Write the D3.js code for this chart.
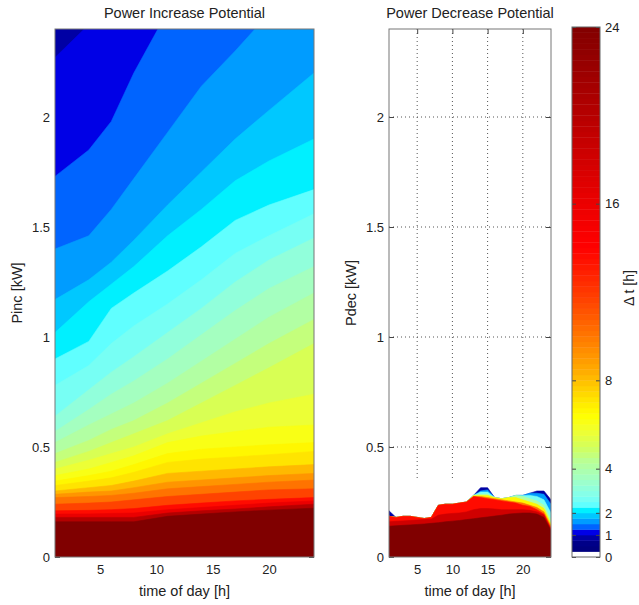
<!DOCTYPE html>
<html>
<head>
<meta charset="utf-8">
<script src="https://cdn.jsdelivr.net/npm/d3@7"></script>
<style>
  body { margin: 0; background: #fff; }
  svg { display: block; }
  text { font-family: "Liberation Sans", Arial, Helvetica, sans-serif; fill: #222; }
</style>
</head>
<body>
<svg id="fig" width="639" height="605"></svg>
<script>
// ---------- data ----------
// Power increase potential: hours at which the iso-duration boundaries are tabulated
const incHours = [1, 4, 6, 8, 11, 14, 17, 20, 24];
// sustainable duration Δt [h] of each band (region below its boundary has Δt >= level)
const incLevels = [0.75, 1, 1.25, 1.5, 1.75, 2, 2.25, 2.5, 3, 3.5, 4, 4.5, 5, 5.5, 6, 6.5, 7, 8, 9, 10, 11.5, 13.5, 16, 20, 24];
// upper Pinc bound [kW] of each band at incHours
const incBounds = [
  [2.40, 2.40, 2.40, 2.40, 2.40, 2.40, 2.40, 2.40, 2.40],
  [2.27, 2.42, 2.50, 2.60, 2.70, 2.80, 2.90, 3.00, 3.20],
  [1.73, 1.85, 1.98, 2.20, 2.48, 2.60, 2.70, 2.80, 3.00],
  [1.40, 1.46, 1.58, 1.72, 1.93, 2.14, 2.30, 2.47, 2.65],
  [1.17, 1.26, 1.34, 1.44, 1.60, 1.75, 1.90, 2.03, 2.20],
  [1.02, 1.16, 1.24, 1.32, 1.46, 1.58, 1.71, 1.80, 1.90],
  [0.90, 0.98, 1.13, 1.20, 1.30, 1.41, 1.53, 1.60, 1.67],
  [0.78, 0.87, 0.97, 1.05, 1.15, 1.26, 1.38, 1.46, 1.56],
  [0.64, 0.76, 0.84, 0.91, 1.02, 1.13, 1.25, 1.35, 1.45],
  [0.57, 0.67, 0.74, 0.80, 0.90, 1.01, 1.12, 1.22, 1.32],
  [0.52, 0.60, 0.65, 0.70, 0.79, 0.89, 0.99, 1.09, 1.20],
  [0.47, 0.53, 0.58, 0.62, 0.70, 0.79, 0.88, 0.97, 1.08],
  [0.43, 0.48, 0.52, 0.56, 0.62, 0.70, 0.78, 0.86, 0.97],
  [0.40, 0.44, 0.47, 0.50, 0.56, 0.61, 0.66, 0.70, 0.74],
  [0.37, 0.40, 0.43, 0.46, 0.52, 0.55, 0.57, 0.59, 0.60],
  [0.345, 0.37, 0.39, 0.42, 0.47, 0.49, 0.50, 0.51, 0.52],
  [0.325, 0.345, 0.36, 0.385, 0.43, 0.445, 0.455, 0.465, 0.48],
  [0.30, 0.315, 0.325, 0.345, 0.38, 0.39, 0.40, 0.41, 0.42],
  [0.285, 0.295, 0.30, 0.315, 0.34, 0.35, 0.36, 0.37, 0.38],
  [0.27, 0.275, 0.28, 0.29, 0.31, 0.32, 0.33, 0.34, 0.35],
  [0.24, 0.245, 0.25, 0.26, 0.275, 0.285, 0.295, 0.305, 0.31],
  [0.21, 0.212, 0.215, 0.22, 0.235, 0.245, 0.255, 0.262, 0.27],
  [0.195, 0.196, 0.198, 0.20, 0.215, 0.225, 0.235, 0.245, 0.255],
  [0.18, 0.18, 0.18, 0.18, 0.20, 0.21, 0.218, 0.228, 0.24],
  [0.16, 0.16, 0.16, 0.16, 0.185, 0.195, 0.205, 0.213, 0.222]
];

// Power decrease potential: hourly boundaries
const decHours = d3.range(1, 25);
// extent of the computed Pdec grid [kW]; cells with Δt = 0 show as white
const decPowerRange = [0, 0.35];
const decLevels = [0.75, 1.5, 2.5, 4, 6.5, 10, 13.5, 18, 24];
const decBounds = [
  [0.21, 0.18, 0.185, 0.185, 0.18, 0.175, 0.18, 0.235, 0.24, 0.24, 0.245, 0.25, 0.28, 0.315, 0.315, 0.27, 0.265, 0.27, 0.28, 0.28, 0.29, 0.30, 0.30, 0.26],
  [0.185, 0.18, 0.185, 0.185, 0.18, 0.175, 0.18, 0.235, 0.24, 0.24, 0.245, 0.25, 0.28, 0.30, 0.305, 0.27, 0.265, 0.27, 0.28, 0.28, 0.29, 0.29, 0.285, 0.24],
  [0.185, 0.18, 0.185, 0.185, 0.18, 0.175, 0.18, 0.235, 0.24, 0.24, 0.245, 0.25, 0.28, 0.295, 0.295, 0.27, 0.265, 0.27, 0.28, 0.28, 0.28, 0.275, 0.26, 0.20],
  [0.185, 0.18, 0.185, 0.185, 0.18, 0.175, 0.18, 0.235, 0.24, 0.24, 0.245, 0.25, 0.28, 0.285, 0.285, 0.27, 0.265, 0.27, 0.28, 0.275, 0.265, 0.255, 0.235, 0.17],
  [0.185, 0.18, 0.185, 0.185, 0.18, 0.175, 0.18, 0.235, 0.24, 0.24, 0.245, 0.25, 0.28, 0.28, 0.28, 0.27, 0.265, 0.27, 0.27, 0.26, 0.25, 0.24, 0.22, 0.15],
  [0.185, 0.18, 0.185, 0.185, 0.18, 0.175, 0.18, 0.235, 0.24, 0.24, 0.245, 0.25, 0.275, 0.275, 0.27, 0.265, 0.26, 0.255, 0.25, 0.245, 0.235, 0.225, 0.205, 0.14],
  [0.185, 0.18, 0.185, 0.185, 0.18, 0.175, 0.18, 0.235, 0.24, 0.24, 0.245, 0.25, 0.275, 0.27, 0.265, 0.26, 0.255, 0.25, 0.245, 0.235, 0.23, 0.215, 0.195, 0.13],
  [0.16, 0.162, 0.164, 0.166, 0.168, 0.17, 0.172, 0.19, 0.195, 0.198, 0.2, 0.205, 0.215, 0.22, 0.22, 0.218, 0.215, 0.215, 0.215, 0.215, 0.212, 0.205, 0.19, 0.125],
  [0.14, 0.142, 0.144, 0.146, 0.148, 0.15, 0.153, 0.156, 0.16, 0.163, 0.166, 0.17, 0.174, 0.178, 0.182, 0.186, 0.19, 0.195, 0.198, 0.2, 0.2, 0.195, 0.18, 0.12]
];

const xTicks = [5, 10, 15, 20];
const yTicks = [0, 0.5, 1, 1.5, 2];
const cbarTicks = [0, 1, 2, 4, 8, 16, 24];

// ---------- colour map (Δt in hours -> colour) ----------
const cmap = d3.scaleLinear()
  .domain([0.25, 0.5, 0.75, 1, 1.25, 1.5, 1.75, 2, 2.25, 2.6, 3.35, 4.2, 4.8, 5.6, 6.3, 7.1, 8.2, 10.1, 11.6, 13.9, 16, 20, 24])
  .range(["#000080", "#000088", "#0000a4", "#0000e6", "#0064ff", "#009cff", "#00c8ff", "#00f0ff",
          "#60ffff", "#80fff0", "#a0ffc8", "#b8ff98", "#d0ff60", "#f0ff30", "#ffff00", "#ffe000",
          "#ffb000", "#ff7000", "#ff4000", "#ff0000", "#ea0000", "#b40000", "#800000"])
  .clamp(true);
const colour = v => v <= 0 ? "#ffffff" : cmap(v);

// ---------- layout ----------
const svg = d3.select("#fig");
const y = d3.scaleLinear().domain([0, 2.4]).range([557, 29]);
const xInc = d3.scaleLinear().domain([1, 24]).range([55, 314]);
const xDec = d3.scaleLinear().domain([1, 24]).range([389, 551]);
const fmt = d3.format("");

const defs = svg.append("defs");
function clip(id, x) {
  defs.append("clipPath").attr("id", id).append("rect")
    .attr("x", x.range()[0]).attr("y", y.range()[1])
    .attr("width", x.range()[1] - x.range()[0]).attr("height", y.range()[0] - y.range()[1]);
}
clip("clipInc", xInc);
clip("clipDec", xDec);

function drawBands(g, x, hours, levels, bounds) {
  levels.forEach((lev, i) => {
    const area = d3.area()
      .x((d, j) => x(hours[j]))
      .y0(y(0))
      .y1(d => y(d));
    g.append("path")
      .attr("d", area(bounds[i]))
      .attr("fill", colour(lev))
      .attr("stroke", colour(lev))
      .attr("stroke-width", 0.6);
  });
}

function styleAxis(g) {
  g.selectAll(".domain").remove();
  g.selectAll("line").attr("stroke", "#444");
  g.selectAll("text").attr("font-size", 13).attr("fill", "#222");
}

function grid(x) {
  const x0 = x.range()[0], x1 = x.range()[1];
  const gg = svg.append("g").attr("stroke", "#555").attr("stroke-width", 1).attr("stroke-dasharray", "1,3");
  xTicks.forEach(t => gg.append("line").attr("x1", x(t)).attr("x2", x(t)).attr("y1", y.range()[1]).attr("y2", y.range()[0]));
  yTicks.filter(t => t > 0).forEach(t => gg.append("line").attr("x1", x0).attr("x2", x1).attr("y1", y(t)).attr("y2", y(t)));
}

// ticks and labels sit underneath the image layer, as in an axes drawn with layer "bottom"
function axes(x, title, ylabel) {
  const x0 = x.range()[0], x1 = x.range()[1];
  const g = svg.append("g");
  g.append("g").attr("transform", `translate(0,${y.range()[0]})`)
    .call(d3.axisBottom(x).tickValues(xTicks).tickSizeInner(-5).tickSizeOuter(0).tickPadding(8).tickFormat(fmt))
    .call(styleAxis);
  g.append("g").attr("transform", `translate(0,${y.range()[1]})`)
    .call(d3.axisTop(x).tickValues(xTicks).tickSizeInner(-5).tickSizeOuter(0).tickFormat(""))
    .call(styleAxis);
  g.append("g").attr("transform", `translate(${x0},0)`)
    .call(d3.axisLeft(y).tickValues(yTicks).tickSizeInner(-5).tickSizeOuter(0).tickPadding(5).tickFormat(fmt))
    .call(styleAxis);
  g.append("g").attr("transform", `translate(${x1},0)`)
    .call(d3.axisRight(y).tickValues(yTicks).tickSizeInner(-5).tickSizeOuter(0).tickFormat(""))
    .call(styleAxis);
  g.append("text").attr("x", (x0 + x1) / 2).attr("y", 18).attr("text-anchor", "middle")
    .attr("font-size", 14.5).text(title);
  g.append("text").attr("x", (x0 + x1) / 2).attr("y", 596).attr("text-anchor", "middle")
    .attr("font-size", 14.5).text("time of day [h]");
  g.append("text").attr("transform", `translate(${x0 - 33},${(y.range()[0] + y.range()[1]) / 2}) rotate(-90)`)
    .attr("text-anchor", "middle").attr("font-size", 14.5).text(ylabel);
}

function box(x) {
  const x0 = x.range()[0], x1 = x.range()[1];
  svg.append("rect").attr("x", x0).attr("y", y.range()[1]).attr("width", x1 - x0)
    .attr("height", y.range()[0] - y.range()[1]).attr("fill", "none").attr("stroke", "#777").attr("stroke-width", 1);
}

// ---------- left panel: power increase ----------
axes(xInc, "Power Increase Potential", "Pinc [kW]");
const gInc = svg.append("g").attr("clip-path", "url(#clipInc)");
drawBands(gInc, xInc, incHours, incLevels, incBounds);
box(xInc);

// ---------- right panel: power decrease ----------
grid(xDec);
axes(xDec, "Power Decrease Potential", "Pdec [kW]");
const gDec = svg.append("g").attr("clip-path", "url(#clipDec)");
gDec.append("rect")
  .attr("x", xDec.range()[0]).attr("width", xDec.range()[1] - xDec.range()[0])
  .attr("y", y(decPowerRange[1])).attr("height", y(decPowerRange[0]) - y(decPowerRange[1]))
  .attr("fill", colour(0));
drawBands(gDec, xDec, decHours, decLevels, decBounds);
box(xDec);

// ---------- colour bar ----------
const cb = { x: 572, w: 28 };
const cy = d3.scaleLinear().domain([0, 24]).range([557, 27]);
const steps = d3.range(0, 24, 0.25);
svg.append("g").selectAll("rect").data(steps).join("rect")
  .attr("x", cb.x).attr("width", cb.w)
  .attr("y", d => cy(d + 0.25)).attr("height", d => cy(d) - cy(d + 0.25) + 0.4)
  .attr("fill", d => colour(d));
svg.append("g").attr("transform", `translate(${cb.x + cb.w},0)`)
  .call(d3.axisRight(cy).tickValues(cbarTicks).tickSizeInner(-4).tickSizeOuter(0).tickPadding(5).tickFormat(fmt))
  .call(styleAxis);
svg.append("g").attr("transform", `translate(${cb.x},0)`)
  .call(d3.axisLeft(cy).tickValues(cbarTicks).tickSizeInner(-4).tickSizeOuter(0).tickFormat(""))
  .call(styleAxis);
svg.append("rect").attr("x", cb.x).attr("y", cy(24)).attr("width", cb.w).attr("height", cy(0) - cy(24))
  .attr("fill", "none").attr("stroke", "#666");
svg.append("text").attr("transform", `translate(634,288) rotate(-90)`)
  .attr("text-anchor", "middle").attr("font-size", 14).text("Δ t [h]");
</script>
</body>
</html>
